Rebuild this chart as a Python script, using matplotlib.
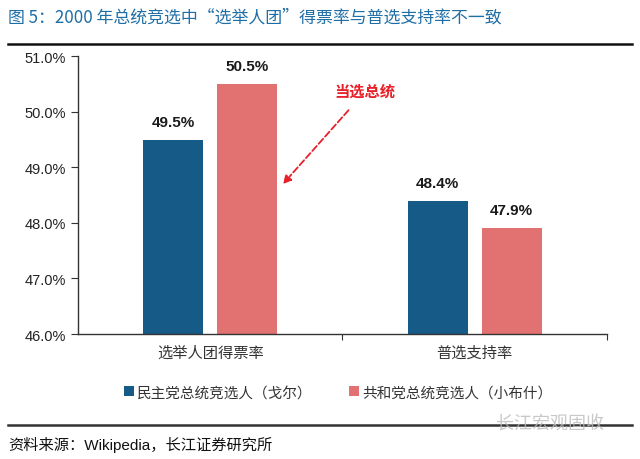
import matplotlib
matplotlib.use("Agg")
import matplotlib.pyplot as plt
import numpy as np

plt.rcParams['font.family'] = ['Liberation Sans', 'Noto Sans CJK SC', 'DejaVu Sans']

categories = ['选举人团得票率', '普选支持率']
series_names = ['民主党总统竞选人（戈尔）', '共和党总统竞选人（小布什）']
gore = [49.5, 48.4]
bush = [50.5, 47.9]
colors = ['#165a87', '#e27272']

fig = plt.figure(figsize=(6.4, 4.6), dpi=100)
ax = fig.add_axes([0.1219, 0.2717, 0.8261, 0.6037])

x = np.arange(len(categories))
w = 0.227
off = 0.14
b1 = ax.bar(x - off, [v - 46 for v in gore], w, bottom=46, color=colors[0], label=series_names[0])
b2 = ax.bar(x + off, [v - 46 for v in bush], w, bottom=46, color=colors[1], label=series_names[1])

for xs, vals in ((x - off, gore), (x + off, bush)):
    for xi, v in zip(xs, vals):
        ax.annotate(f'{v:.1f}%', (xi, v), xytext=(0, 8), textcoords='offset points',
                    ha='center', va='bottom', fontsize=11, fontweight='bold', color='#1a1a1a')

ax.set_xlim(-0.5, 1.5)
ax.set_ylim(46, 51)
ax.set_yticks(np.arange(46, 51.01, 1))
ax.set_yticklabels([f'{t:.1f}%' for t in np.arange(46, 51.01, 1)], fontsize=10.5, color='#222222')
ax.set_xticks([0.5, 1.5], minor=False)
ax.set_xticklabels([])
ax.set_xticks(x, minor=True)
ax.set_xticklabels(categories, minor=True, fontsize=11, color='#333333')
ax.tick_params(axis='x', which='minor', length=0, pad=8)
ax.tick_params(axis='x', which='major', length=4, direction='out', color='#333333')
ax.tick_params(axis='y', length=5, direction='out', color='#333333')
for s in ['top', 'right']:
    ax.spines[s].set_visible(False)
for s in ['left', 'bottom']:
    ax.spines[s].set_color('#333333')
    ax.spines[s].set_linewidth(1.0)

ax.annotate('当选总统', xy=(0.275, 48.7), xytext=(0.585, 50.36),
            ha='center', va='center', fontsize=11, fontweight='bold', color='#e8202a',
            arrowprops=dict(arrowstyle='-|>', linestyle='--', color='#e8202a', lw=1.3,
                            shrinkA=8, shrinkB=0, mutation_scale=12))

leg = fig.legend(handles=[b1, b2], loc='center', bbox_to_anchor=(0.528, 0.145), ncol=2,
                 frameon=False, fontsize=10.5, handlelength=0.7, handleheight=0.7,
                 handletextpad=0.2, columnspacing=2.5)
for t in leg.get_texts():
    t.set_color('#333333')

fig.text(0.013, 0.962, '图 5：2000 年总统竞选中“选举人团”得票率与普选支持率不一致',
         fontsize=12.2, color='#1f6ea6', va='center', ha='left',
         family=['Noto Sans CJK SC', 'DejaVu Sans'])
fig.add_artist(plt.Line2D([0.013, 0.987], [0.903, 0.903], color='#111111', lw=1.8))
fig.add_artist(plt.Line2D([0.013, 0.987], [0.075, 0.075], color='#333333', lw=1.8))
fig.text(0.013, 0.033, '资料来源：Wikipedia，长江证券研究所', fontsize=11, color='#111111',
         va='center', ha='left')
fig.text(0.775, 0.078, '长江宏观固收', fontsize=13, color='#bbbbbb', va='center', ha='left', alpha=0.8)

fig.savefig('out.png', dpi=100)
